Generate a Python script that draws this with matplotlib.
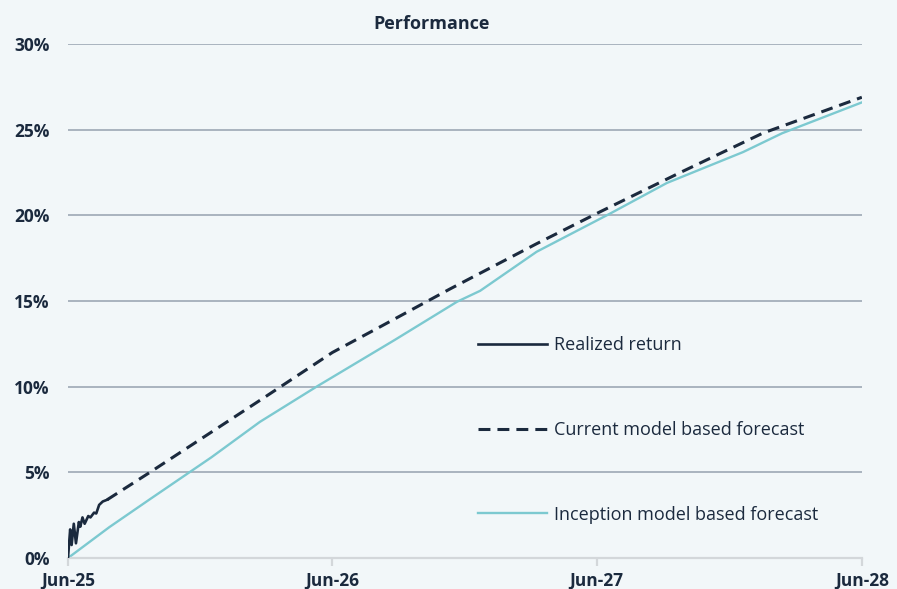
import pandas as pd
import matplotlib.pyplot as plt
from matplotlib.ticker import FuncFormatter

# realized return (first weeks only)
realized_dates = pd.to_datetime([
    "2025-06-30", "2025-07-03", "2025-07-05", "2025-07-08", "2025-07-11",
    "2025-07-15", "2025-07-17", "2025-07-20", "2025-07-23", "2025-07-28",
    "2025-07-31", "2025-08-05", "2025-08-08", "2025-08-12", "2025-08-17",
    "2025-08-23",
])
realized = [0.0, 1.67, 0.76, 2.0, 0.86, 2.1, 1.83, 2.37, 2.0, 2.45,
            2.37, 2.65, 2.6, 3.1, 3.3, 3.4]

# current model based forecast
current_dates = pd.to_datetime([
    "2025-08-23", "2025-10-21", "2026-03-29", "2026-06-30", "2026-09-04",
    "2026-12-09", "2027-04-08", "2027-07-04", "2027-10-23", "2028-02-14",
    "2028-06-30",
])
current = [3.4, 5.0, 9.4, 12.0, 13.5, 15.7, 18.35, 20.2, 22.5, 24.8, 26.9]

# inception model based forecast
inception_dates = pd.to_datetime([
    "2025-06-30", "2025-08-26", "2025-10-21", "2026-01-14", "2026-03-22",
    "2026-06-08", "2026-09-24", "2026-12-19", "2027-01-20", "2027-04-08",
    "2027-07-18", "2027-10-05", "2028-01-18", "2028-03-12", "2028-06-30",
])
inception = [0.0, 1.8, 3.43, 5.88, 7.95, 10.0, 12.73, 14.96, 15.6, 17.88,
             20.1, 21.9, 23.7, 24.8, 26.6]

year_ticks = pd.to_datetime(["2025-06-30", "2026-06-30", "2027-06-30", "2028-06-30"])
year_labels = ["Jun-25", "Jun-26", "Jun-27", "Jun-28"]
y_ticks = [0, 5, 10, 15, 20, 25, 30]

navy = "#1b2a3e"
teal = "#7cc9d0"
bg = "#f2f7f9"

plt.rcParams["font.family"] = ["Open Sans", "DejaVu Sans"]

fig = plt.figure(figsize=(8.97, 5.89), dpi=100, facecolor=bg)
ax = fig.add_axes([0.0758, 0.0526, 0.885, 0.8724])
ax.set_facecolor(bg)

ax.plot(realized_dates, realized, color=navy, lw=1.9, label="Realized return", zorder=4)
ax.plot(current_dates, current, color=navy, lw=2.2, ls=(0, (3.9, 2.3)),
        label="Current model based forecast", zorder=3)
ax.plot(inception_dates, inception, color=teal, lw=1.7,
        label="Inception model based forecast", zorder=2)

ax.set_xlim(year_ticks[0], year_ticks[-1])
ax.set_ylim(0, 30)
ax.set_yticks(y_ticks)
ax.yaxis.set_major_formatter(FuncFormatter(lambda v, p: f"{v:.0f}%"))
ax.set_xticks(year_ticks)
ax.set_xticklabels(year_labels)

for v in y_ticks[1:]:
    ax.axhline(v, color="#aab4bf", lw=1.4, zorder=0)

for s in ["top", "right", "left"]:
    ax.spines[s].set_visible(False)
ax.spines["bottom"].set_color("#d3d7da")
ax.spines["bottom"].set_linewidth(1.6)

ax.tick_params(axis="y", length=0, pad=13, labelsize=12.5, labelcolor=navy)
ax.tick_params(axis="x", length=6, width=1.6, color="#d3d7da", pad=4,
               labelsize=12.5, labelcolor=navy)
for lbl in ax.get_xticklabels() + ax.get_yticklabels():
    lbl.set_fontweight("bold")

fig.text(0.4816, 0.959, "Performance", fontsize=13, fontweight="bold",
         color=navy, ha="center", va="center")

leg = ax.legend(loc="upper left", bbox_to_anchor=(0.5164, 0.432), frameon=False,
                fontsize=13, handlelength=3.8, handletextpad=0.4,
                labelspacing=3.7, borderaxespad=0, borderpad=0)
for t in leg.get_texts():
    t.set_color(navy)

fig.savefig("out.png", dpi=100, facecolor=bg)
plt.close()
